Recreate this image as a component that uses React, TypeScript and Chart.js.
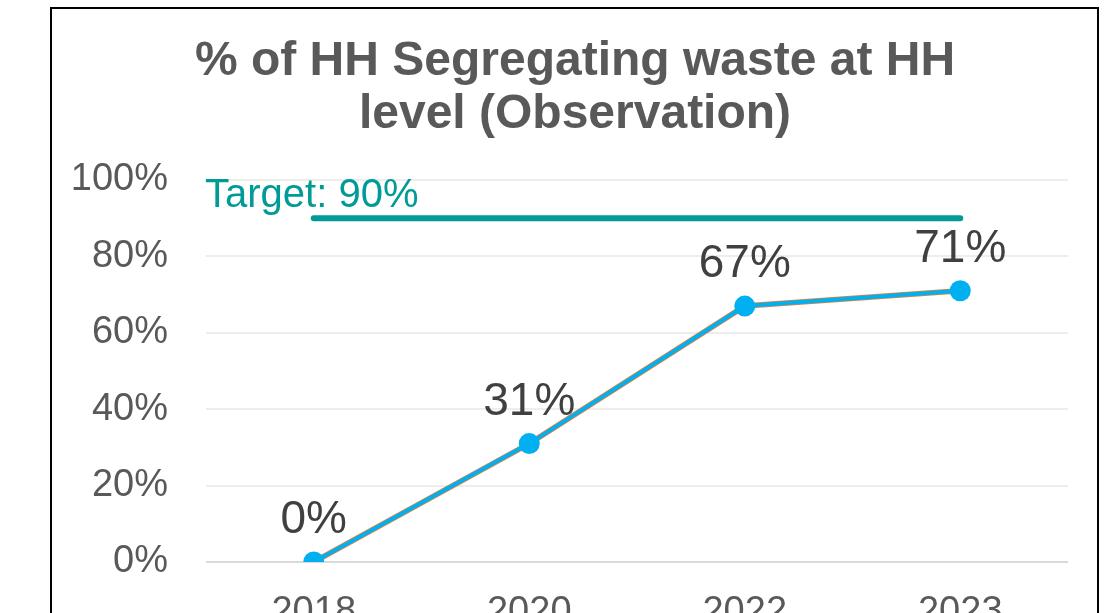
import React, { useEffect, useRef } from "react";
import { Chart, registerables } from "chart.js";

Chart.register(...registerables);

const years = ["2018", "2020", "2022", "2023"];
const observed = [0, 31, 67, 71];
const target = [90, 90, 90, 90];
const targetLabel = "Target: 90%";
const yTicks = [0, 20, 40, 60, 80, 100];
const titleLines = ["% of HH Segregating waste at HH", "level (Observation)"];

const FONT = "'Liberation Sans', Arial, Helvetica, sans-serif";
const W = 1114;
const H = 613;

const overlayPlugin = {
  id: "overlay",
  afterDatasetsDraw(chart: any) {
    const ctx = chart.ctx as CanvasRenderingContext2D;
    const area = chart.chartArea;
    const yScale = chart.scales.y;

    ctx.save();
    // Title
    ctx.fillStyle = "#595959";
    ctx.font = `bold 48px ${FONT}`;
    ctx.textAlign = "center";
    ctx.textBaseline = "alphabetic";
    ctx.fillText(titleLines[0], 575, 75);
    ctx.fillText(titleLines[1], 575, 128);

    // Target label
    ctx.fillStyle = "#009B96";
    ctx.font = `40px ${FONT}`;
    ctx.textAlign = "left";
    ctx.fillText(targetLabel, area.left - 1, yScale.getPixelForValue(target[0]) - 11);

    // Data labels
    const meta = chart.getDatasetMeta(0);
    ctx.fillStyle = "#404040";
    ctx.font = `46px ${FONT}`;
    ctx.textAlign = "center";
    meta.data.forEach((pt: any, i: number) => {
      ctx.fillText(`${observed[i]}%`, pt.x, pt.y - 29);
    });
    ctx.restore();
  },
};

export default function App() {
  const canvasRef = useRef<HTMLCanvasElement | null>(null);

  useEffect(() => {
    if (!canvasRef.current) return;
    const chart = new Chart(canvasRef.current, {
      type: "line",
      data: {
        labels: years,
        datasets: [
          {
            label: "Observation",
            data: observed,
            borderColor: "#00B0F0",
            backgroundColor: "#00B0F0",
            borderWidth: 4,
            pointRadius: 10.5,
            pointBackgroundColor: "#00B0F0",
            pointBorderWidth: 0,
            tension: 0,
            order: 0,
          },
          {
            label: "Observation outline",
            data: observed,
            borderColor: "#ED7D31",
            borderWidth: 5.5,
            pointRadius: 0,
            tension: 0,
            order: 1,
          },
          {
            label: "Target",
            data: target,
            borderColor: "#009B96",
            borderWidth: 6,
            borderCapStyle: "round",
            pointRadius: 0,
            tension: 0,
            order: 2,
          },
        ],
      },
      options: {
        responsive: false,
        animation: false,
        layout: { padding: { top: 180, right: W - 1068, bottom: 0, left: 0 } },
        plugins: {
          legend: { display: false },
          tooltip: { enabled: false },
          title: { display: false },
        },
        scales: {
          x: {
            offset: true,
            grid: { display: false, drawTicks: false },
            border: { display: false },
            ticks: {
              color: "#595959",
              font: { family: FONT, size: 38 },
              padding: 28,
              maxRotation: 0,
            },
            afterFit(scale: any) {
              scale.height = H - 562;
            },
          },
          y: {
            min: 0,
            max: 100,
            afterBuildTicks(scale: any) {
              scale.ticks = yTicks.map((v) => ({ value: v }));
            },
            grid: {
              drawTicks: true,
              tickLength: 38,
              tickColor: "rgba(0,0,0,0)",
              lineWidth: 2,
              color: (c: any) => (c.tick && c.tick.value === 0 ? "#D9D9D9" : "#EDEDED"),
            },
            border: { display: false },
            ticks: {
              color: "#595959",
              font: { family: FONT, size: 38 },
              padding: 0,
              callback: (v: any) => `${v}%`,
            },
            afterFit(scale: any) {
              scale.width = 206;
            },
          },
        },
      },
      plugins: [overlayPlugin],
    });
    return () => chart.destroy();
  }, []);

  return (
    <div
      style={{
        position: "fixed",
        left: 0,
        top: 0,
        width: W,
        height: H,
        overflow: "hidden",
        background: "#fff",
      }}
    >
      <div
        style={{
          position: "absolute",
          left: 50,
          top: 7,
          width: 1049,
          height: 700,
          boxSizing: "border-box",
          border: "2px solid #000",
        }}
      />
      <canvas
        ref={canvasRef}
        width={W}
        height={H}
        style={{ position: "absolute", left: 0, top: 0, display: "block" }}
      />
    </div>
  );
}
